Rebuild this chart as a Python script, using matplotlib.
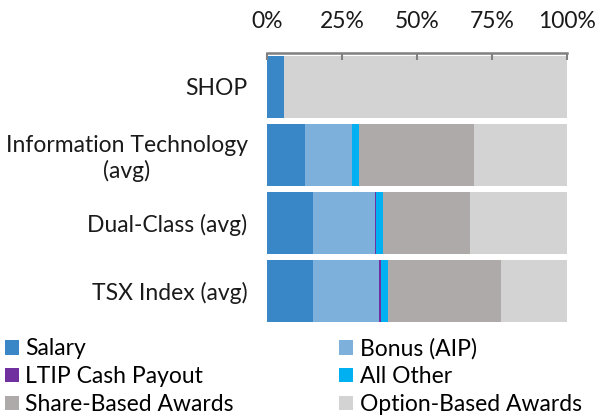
import matplotlib
matplotlib.use("Agg")
import matplotlib.pyplot as plt
from matplotlib.patches import Patch
from matplotlib.ticker import PercentFormatter
import numpy as np

categories = ["SHOP", "Information Technology\n(avg)", "Dual-Class (avg)", "TSX Index (avg)"]
series_names = ["Salary", "Bonus (AIP)", "LTIP Cash Payout", "All Other",
                "Share-Based Awards", "Option-Based Awards"]
salary = [5.7, 12.6, 15.3, 15.2]
bonus = [0.0, 15.9, 20.7, 22.2]
ltip = [0.0, 0.0, 0.4, 0.6]
all_other = [0.0, 2.1, 2.4, 2.3]
share_based = [0.0, 38.4, 29.0, 37.7]
option_based = [94.3, 31.0, 32.2, 22.0]
colors = ["#3A87C8", "#7DB1DC", "#7030A0", "#00B0F0", "#AEAAAA", "#D3D3D3"]
tick_vals = [0, 25, 50, 75, 100]

plt.rcParams['font.family'] = ['Lato', 'DejaVu Sans']

fig = plt.figure(figsize=(5.96, 4.16), dpi=100)
ax = fig.add_axes([0.448, 0.2197, 0.503, 0.6529])

data = [salary, bonus, ltip, all_other, share_based, option_based]
y = np.arange(len(categories))
left = np.zeros(len(categories))
for vals, c, name in zip(data, colors, series_names):
    ax.barh(y, vals, left=left, height=0.91, color=c, label=name, linewidth=0)
    left += np.array(vals)

ax.set_ylim(3.5, -0.5)
ax.set_xlim(0, 100)
ax.set_yticks(y)
ax.set_yticklabels(categories, fontsize=16.5, color="#1a1a1a", multialignment='center',
                   linespacing=1.2)
ax.tick_params(axis='y', length=0, pad=14)
ax.xaxis.tick_top()
ax.set_xticks(tick_vals)
ax.xaxis.set_major_formatter(PercentFormatter(decimals=0))
ax.tick_params(axis='x', direction='in', length=5, width=1.5, color="#808080",
               labelsize=16.5, labelcolor="#1a1a1a", pad=15)
for s in ['bottom', 'left', 'right']:
    ax.spines[s].set_visible(False)
ax.spines['top'].set_color("#808080")
ax.spines['top'].set_linewidth(1.8)

handles = [Patch(facecolor=c, label=n) for c, n in zip(colors, series_names)]
order = [0, 2, 4, 1, 3, 5]
fig.legend([handles[i] for i in order], [series_names[i] for i in order],
           ncol=2, loc='upper left', bbox_to_anchor=(0.008, 0.188),
           frameon=False, fontsize=16.5, handlelength=0.6, handleheight=0.6,
           handletextpad=0.3, columnspacing=4.6, labelspacing=0.3,
           borderaxespad=0, borderpad=0)

fig.savefig("out.png", dpi=100)
